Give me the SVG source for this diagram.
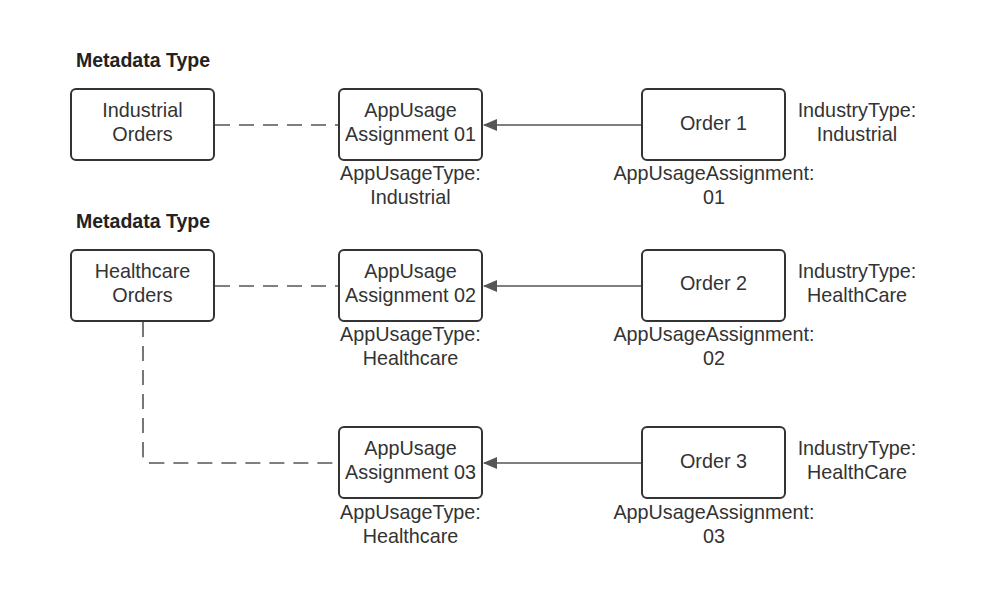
<svg xmlns="http://www.w3.org/2000/svg" width="1000" height="592" viewBox="0 0 1000 592">
<style>
text{font-family:"Liberation Sans",Arial,sans-serif;font-size:19.8px;fill:#333;text-anchor:middle}
.h{font-weight:bold;font-size:19.5px;text-anchor:start;fill:#222}
.box{fill:#fff;stroke:#333;stroke-width:2}
.dash{fill:none;stroke:#555;stroke-width:1.6;stroke-dasharray:15 9}
.arr{fill:none;stroke:#555;stroke-width:1.6}
</style>
<defs>
<marker id="ah" markerWidth="14" markerHeight="12" refX="13" refY="6" orient="auto" markerUnits="userSpaceOnUse">
<path d="M0,0 L14,6 L0,12 Z" fill="#555"/>
</marker>
</defs>
<rect width="1000" height="592" fill="#fff"/>
<text class="h" x="76" y="67">Metadata Type</text>
<text class="h" x="76" y="228">Metadata Type</text>
<g id="connectors">
<path class="dash" d="M215,125 H338"/>
<path class="dash" d="M215,286 H338"/>
<path class="dash" d="M143,322 V455 Q143,463 151,463 H338"/>
<path class="arr" d="M641,125 H484" marker-end="url(#ah)"/>
<path class="arr" d="M641,286 H484" marker-end="url(#ah)"/>
<path class="arr" d="M641,463 H484" marker-end="url(#ah)"/>
</g>
<g id="industrial-orders">
<rect class="box" x="71" y="89" width="143" height="71" rx="5"/>
<text x="142.5" y="117">Industrial</text>
<text x="142.5" y="141">Orders</text>
</g>
<g id="healthcare-orders">
<rect class="box" x="71" y="250" width="143" height="71" rx="5"/>
<text x="142.5" y="278">Healthcare</text>
<text x="142.5" y="302">Orders</text>
</g>
<g id="aua01">
<rect class="box" x="339" y="89" width="143" height="71" rx="5"/>
<text x="410.5" y="117">AppUsage</text>
<text x="410.5" y="141">Assignment 01</text>
<text x="410.5" y="180">AppUsageType:</text>
<text x="410.5" y="204">Industrial</text>
</g>
<g id="aua02">
<rect class="box" x="339" y="250" width="143" height="71" rx="5"/>
<text x="410.5" y="278">AppUsage</text>
<text x="410.5" y="302">Assignment 02</text>
<text x="410.5" y="341">AppUsageType:</text>
<text x="410.5" y="365">Healthcare</text>
</g>
<g id="aua03">
<rect class="box" x="339" y="427" width="143" height="71" rx="5"/>
<text x="410.5" y="455">AppUsage</text>
<text x="410.5" y="479">Assignment 03</text>
<text x="410.5" y="519">AppUsageType:</text>
<text x="410.5" y="543">Healthcare</text>
</g>
<g id="order1">
<rect class="box" x="642" y="89" width="143" height="71" rx="5"/>
<text x="713.5" y="130">Order 1</text>
<text x="714" y="180">AppUsageAssignment:</text>
<text x="714" y="204">01</text>
<text x="857" y="117">IndustryType:</text>
<text x="857" y="141">Industrial</text>
</g>
<g id="order2">
<rect class="box" x="642" y="250" width="143" height="71" rx="5"/>
<text x="713.5" y="290">Order 2</text>
<text x="714" y="341">AppUsageAssignment:</text>
<text x="714" y="365">02</text>
<text x="857" y="278">IndustryType:</text>
<text x="857" y="302">HealthCare</text>
</g>
<g id="order3">
<rect class="box" x="642" y="427" width="143" height="71" rx="5"/>
<text x="713.5" y="468">Order 3</text>
<text x="714" y="519">AppUsageAssignment:</text>
<text x="714" y="543">03</text>
<text x="857" y="455">IndustryType:</text>
<text x="857" y="479">HealthCare</text>
</g>
</svg>
